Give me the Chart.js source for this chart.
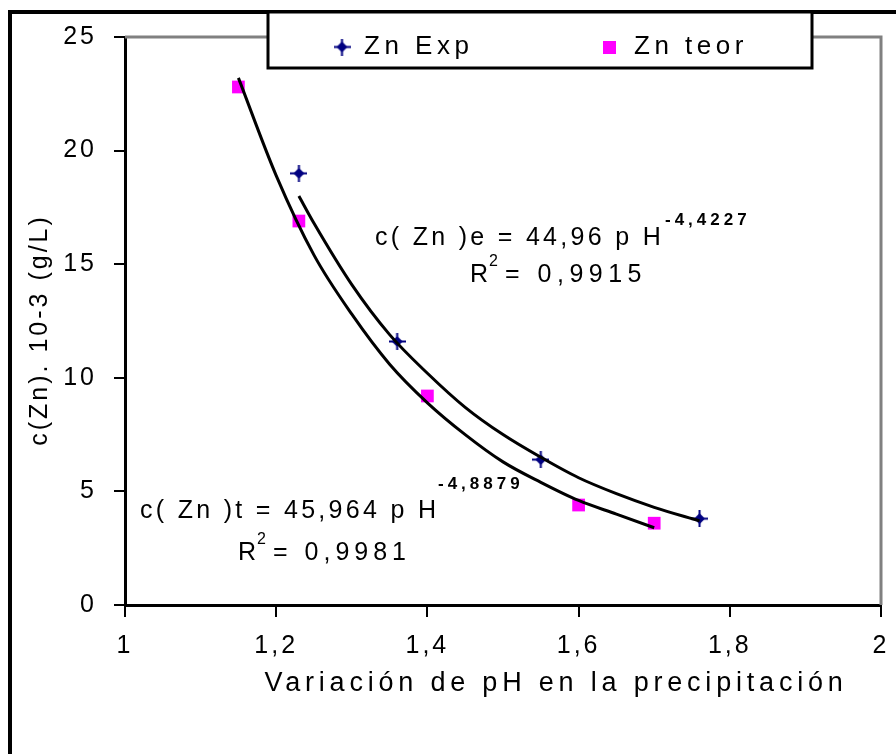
<!DOCTYPE html>
<html>
<head>
<meta charset="utf-8">
<script src="https://cdn.jsdelivr.net/npm/chart.js@4.4.0/dist/chart.umd.min.js"></script>
<style>
  html, body { margin: 0; padding: 0; background: #fff; }
  canvas { display: block; }
</style>
</head>
<body>
<canvas id="chart" width="896" height="754"></canvas>
<script>
// Zn concentration vs pH - experimental and theoretical points with power trendlines
const expPH = [1.23, 1.36, 1.55, 1.76]
const expZn = [19.0, 11.6, 6.4, 3.8]
const teorPH = [1.15, 1.23, 1.40, 1.60, 1.70]
const teorZn = [22.8, 16.9, 9.2, 4.4, 3.6]

// trendline curves
const fitExpPH = [1.23, 1.25, 1.30, 1.35, 1.40, 1.45, 1.50, 1.55, 1.60, 1.65, 1.70, 1.76]
const fitExpZn = [18.0, 16.8, 14.1, 11.9, 10.2, 8.7, 7.5, 6.5, 5.6, 4.9, 4.3, 3.7]
const fitTeorPH = [1.15, 1.20, 1.25, 1.30, 1.35, 1.40, 1.45, 1.50, 1.55, 1.60, 1.65, 1.70]
const fitTeorZn = [23.2, 18.9, 15.4, 12.8, 10.6, 8.9, 7.5, 6.3, 5.4, 4.6, 4.0, 3.4]

const seriesNames = ["Zn Exp", "Zn teor"]
const xTitle = "Variación de pH en la precipitación"
const yTitle = "c(Zn). 10-3 (g/L)"
const eqExp = ["c( Zn )e = 44,96 p H", "-4,4227", "= 0,9915"]
const eqTeor = ["c( Zn )t = 45,964 p H", "-4,8879", "= 0,9981"]

const FONT = '"Liberation Sans", Arial, sans-serif'
const NAVY = "#000080"
const PINK = "#ff00ff"

const toPoints = (xs, ys) => xs.map((x, i) => ({ x: x, y: ys[i] }))
const comma = v => String(Math.round(v * 10) / 10).replace(".", ",")

// navy plus/diamond marker used by Excel for the first series
function makeStar() {
  const c = document.createElement("canvas")
  c.width = 17
  c.height = 17
  const g = c.getContext("2d")
  g.fillStyle = NAVY
  g.beginPath()
  g.moveTo(8.5, 3); g.lineTo(14, 8.5); g.lineTo(8.5, 14); g.lineTo(3, 8.5)
  g.closePath()
  g.fill()
  g.fillRect(7.5, 0, 2, 17)
  g.fillRect(0, 7.5, 17, 2)
  return c
}
const star = makeStar()

function txt(ctx, s, x, y, size, spacing, align, weight) {
  ctx.font = (weight || "") + " " + size + "px " + FONT
  ctx.letterSpacing = spacing + "px"
  ctx.textAlign = align || "left"
  ctx.textBaseline = "middle"
  ctx.fillText(s, x, y)
}

const spacingPlugin = {
  id: "spacing",
  beforeDraw(chart) {
    chart.ctx.letterSpacing = "3px"
  }
}

const decorPlugin = {
  id: "decor",
  afterDraw(chart) {
    const ctx = chart.ctx
    const a = chart.chartArea
    ctx.save()

    // grey top and right plot border
    ctx.strokeStyle = "#808080"
    ctx.lineWidth = 3
    ctx.beginPath()
    ctx.moveTo(a.left, a.top)
    ctx.lineTo(a.right, a.top)
    ctx.lineTo(a.right, a.bottom)
    ctx.stroke()

    // outer frame (left and top edges)
    ctx.strokeStyle = "#000"
    ctx.lineWidth = 4
    ctx.beginPath()
    ctx.moveTo(10, 760)
    ctx.lineTo(10, 12)
    ctx.lineTo(900, 12)
    ctx.stroke()

    // legend box
    ctx.fillStyle = "#fff"
    ctx.fillRect(268, 12, 544, 56)
    ctx.lineWidth = 3
    ctx.strokeRect(268, 12, 544, 56)
    ctx.drawImage(star, 342 - 8.5, 47 - 8.5)
    ctx.fillStyle = PINK
    ctx.fillRect(603, 41, 13, 13)
    ctx.fillStyle = "#000"
    txt(ctx, seriesNames[0], 364, 47, 26, 4.5)
    txt(ctx, seriesNames[1], 634, 47, 26, 4.5)

    // trendline equations
    txt(ctx, eqExp[0], 375, 238, 25, 3.3)
    txt(ctx, eqExp[1], 665, 220, 17, 4, "left", "bold")
    txt(ctx, "R", 470, 275, 25, 3)
    txt(ctx, "2", 489, 262, 16, 0)
    txt(ctx, eqExp[2], 505, 275, 25, 5.5)

    txt(ctx, eqTeor[0], 140, 511, 25, 3.3)
    txt(ctx, eqTeor[1], 438, 484, 17, 4, "left", "bold")
    txt(ctx, "R", 238, 553, 25, 3)
    txt(ctx, "2", 257, 540, 16, 0)
    txt(ctx, eqTeor[2], 273, 553, 25, 5)

    // axis titles
    txt(ctx, xTitle, 556, 684, 27, 4.8, "center")
    ctx.translate(40, 330)
    ctx.rotate(-Math.PI / 2)
    txt(ctx, yTitle, 0, 0, 25, 3, "center")

    ctx.restore()
  }
}

new Chart(document.getElementById("chart"), {
  type: "scatter",
  data: {
    datasets: [
      {
        type: "line",
        data: toPoints(fitExpPH, fitExpZn),
        borderColor: "#000",
        borderWidth: 3,
        pointRadius: 0,
        cubicInterpolationMode: "monotone",
        order: 0
      },
      {
        type: "line",
        data: toPoints(fitTeorPH, fitTeorZn),
        borderColor: "#000",
        borderWidth: 3,
        pointRadius: 0,
        cubicInterpolationMode: "monotone",
        order: 0
      },
      {
        label: seriesNames[0],
        data: toPoints(expPH, expZn),
        pointStyle: star,
        order: 1
      },
      {
        label: seriesNames[1],
        data: toPoints(teorPH, teorZn),
        pointStyle: "rect",
        pointRadius: 9,
        backgroundColor: PINK,
        borderWidth: 0,
        order: 1
      }
    ]
  },
  options: {
    responsive: false,
    animation: false,
    devicePixelRatio: 1,
    layout: { padding: { left: 0, top: 37, right: 15, bottom: 0 } },
    plugins: {
      legend: { display: false },
      tooltip: { enabled: false }
    },
    scales: {
      x: {
        type: "linear",
        min: 1,
        max: 2,
        afterFit: s => { s.height = 149; s.paddingLeft = 0; s.paddingRight = 0 },
        border: { color: "#000", width: 3 },
        grid: { drawOnChartArea: false, color: "#000", lineWidth: 2, tickLength: 12 },
        ticks: {
          stepSize: 0.2,
          padding: 14,
          color: "#000",
          font: { family: FONT, size: 25 },
          maxRotation: 0,
          autoSkip: false,
          callback: v => comma(v)
        }
      },
      y: {
        min: 0,
        max: 25,
        afterFit: s => { s.width = 125; s.paddingTop = 0; s.paddingBottom = 0 },
        border: { color: "#000", width: 3 },
        grid: { drawOnChartArea: false, color: "#000", lineWidth: 2, tickLength: 11 },
        ticks: {
          stepSize: 5,
          padding: 17,
          color: "#000",
          font: { family: FONT, size: 25 },
          callback: v => comma(v)
        }
      }
    }
  },
  plugins: [spacingPlugin, decorPlugin]
})
</script>
</body>
</html>
